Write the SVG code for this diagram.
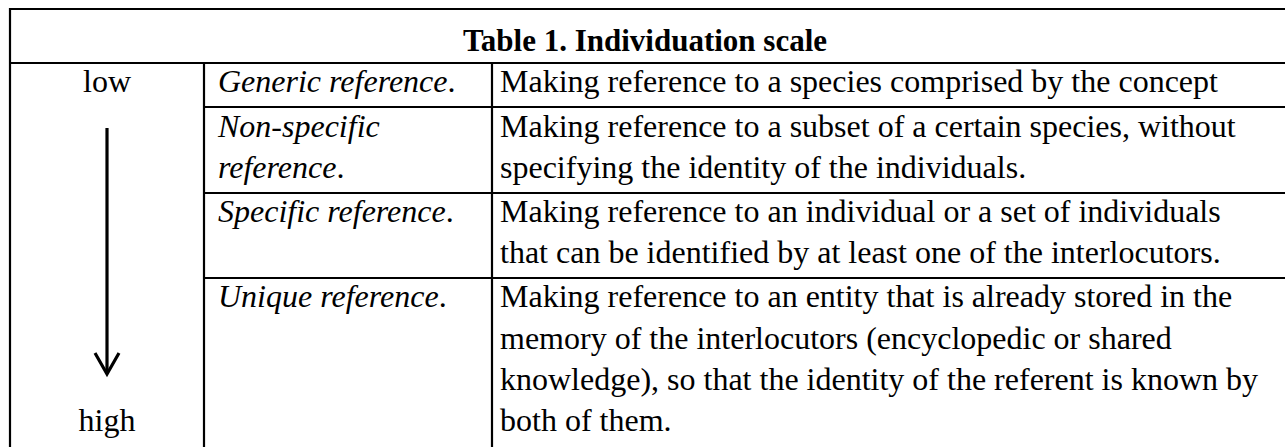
<svg xmlns="http://www.w3.org/2000/svg" width="1285" height="447" viewBox="0 0 1285 447">
<style>
.t{font-family:"Liberation Serif","Times New Roman",serif;font-size:32px;fill:#000}
.i{font-style:italic}
.b{font-weight:bold;font-size:31px}
.c{text-anchor:middle}
.ln{stroke:#000;stroke-width:2.2;fill:none}
.ar{stroke:#000;stroke-width:3.2;fill:none}
</style>
<rect width="1285" height="447" fill="#fff"/>
<g id="grid">
<line class="ln" x1="9" y1="9" x2="1285" y2="9"/>
<line class="ln" x1="9" y1="63" x2="1285" y2="63"/>
<line class="ln" x1="204" y1="107" x2="1285" y2="107"/>
<line class="ln" x1="204" y1="193" x2="1285" y2="193"/>
<line class="ln" x1="204" y1="278" x2="1285" y2="278"/>
<line class="ln" x1="10" y1="8" x2="10" y2="447"/>
<line class="ln" x1="204" y1="63" x2="204" y2="447"/>
<line class="ln" x1="492" y1="63" x2="492" y2="447"/>
</g>
<g id="title"><text class="t b c" x="645" y="51">Table 1. Individuation scale</text></g>
<g id="scale">
<text class="t c" x="107" y="92">low</text>
<text class="t c" x="107" y="431">high</text>
</g>
<g id="connectors">
<line class="ar" x1="107" y1="128" x2="107" y2="374"/>
<polyline class="ar" points="95,353 107,374 119,353"/>
</g>
<g id="generic">
<text class="t i" x="218" y="92">Generic reference<tspan font-style="normal">.</tspan></text>
<text class="t" x="500" y="92">Making reference to a species comprised by the concept</text>
</g>
<g id="nonspecific">
<text class="t i" x="218" y="137">Non-specific</text>
<text class="t i" x="218" y="178">reference<tspan font-style="normal">.</tspan></text>
<text class="t" x="500" y="137">Making reference to a subset of a certain species, without</text>
<text class="t" x="500" y="178">specifying the identity of the individuals.</text>
</g>
<g id="specific">
<text class="t i" x="218" y="222">Specific reference<tspan font-style="normal">.</tspan></text>
<text class="t" x="500" y="222">Making reference to an individual or a set of individuals</text>
<text class="t" x="500" y="263">that can be identified by at least one of the interlocutors.</text>
</g>
<g id="unique">
<text class="t i" x="218" y="307">Unique reference<tspan font-style="normal">.</tspan></text>
<text class="t" x="500" y="307">Making reference to an entity that is already stored in the</text>
<text class="t" x="500" y="348.5">memory of the interlocutors (encyclopedic or shared</text>
<text class="t" x="500" y="390">knowledge), so that the identity of the referent is known by</text>
<text class="t" x="500" y="431">both of them.</text>
</g>
</svg>
